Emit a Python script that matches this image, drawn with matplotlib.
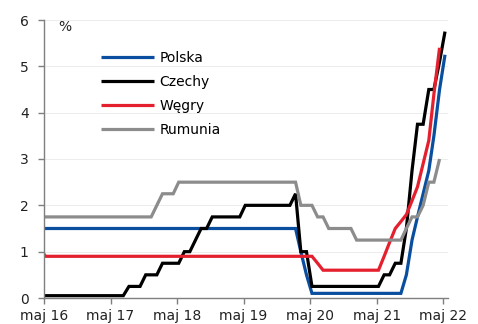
import datetime as dt

import matplotlib
matplotlib.use("Agg")
import matplotlib.pyplot as plt
import pandas as pd

# Monthly policy rates (%), April 2016 - May 2022
months = pd.date_range("2016-04-01", periods=74, freq="MS") + pd.Timedelta(days=9)

polska = [
    1.5, 1.5, 1.5, 1.5, 1.5, 1.5, 1.5, 1.5, 1.5,                      # 2016 IV-XII
    1.5, 1.5, 1.5, 1.5, 1.5, 1.5, 1.5, 1.5, 1.5, 1.5, 1.5, 1.5,       # 2017
    1.5, 1.5, 1.5, 1.5, 1.5, 1.5, 1.5, 1.5, 1.5, 1.5, 1.5, 1.5,       # 2018
    1.5, 1.5, 1.5, 1.5, 1.5, 1.5, 1.5, 1.5, 1.5, 1.5, 1.5, 1.5,       # 2019
    1.5, 1.5, 1.0, 0.5, 0.1, 0.1, 0.1, 0.1, 0.1, 0.1, 0.1, 0.1,       # 2020
    0.1, 0.1, 0.1, 0.1, 0.1, 0.1, 0.1, 0.1, 0.1, 0.5, 1.25, 1.75,     # 2021
    2.25, 2.75, 3.5, 4.5, 5.25,                                       # 2022 I-V
]
czechy = [
    0.05, 0.05, 0.05, 0.05, 0.05, 0.05, 0.05, 0.05, 0.05,
    0.05, 0.05, 0.05, 0.05, 0.05, 0.05, 0.05, 0.25, 0.25, 0.25, 0.5, 0.5,
    0.5, 0.75, 0.75, 0.75, 0.75, 1.0, 1.0, 1.25, 1.5, 1.5, 1.75, 1.75,
    1.75, 1.75, 1.75, 1.75, 2.0, 2.0, 2.0, 2.0, 2.0, 2.0, 2.0, 2.0,
    2.0, 2.25, 1.0, 1.0, 0.25, 0.25, 0.25, 0.25, 0.25, 0.25, 0.25, 0.25,
    0.25, 0.25, 0.25, 0.25, 0.25, 0.5, 0.5, 0.75, 0.75, 1.5, 2.75, 3.75,
    3.75, 4.5, 4.5, 5.1, 5.75,
]
wegry = [
    1.05, 0.9, 0.9, 0.9, 0.9, 0.9, 0.9, 0.9, 0.9,
    0.9, 0.9, 0.9, 0.9, 0.9, 0.9, 0.9, 0.9, 0.9, 0.9, 0.9, 0.9,
    0.9, 0.9, 0.9, 0.9, 0.9, 0.9, 0.9, 0.9, 0.9, 0.9, 0.9, 0.9,
    0.9, 0.9, 0.9, 0.9, 0.9, 0.9, 0.9, 0.9, 0.9, 0.9, 0.9, 0.9,
    0.9, 0.9, 0.9, 0.9, 0.9, 0.75, 0.6, 0.6, 0.6, 0.6, 0.6, 0.6,
    0.6, 0.6, 0.6, 0.6, 0.6, 0.9, 1.2, 1.5, 1.65, 1.8, 2.1, 2.4,
    2.9, 3.4, 4.4, 5.4,
]
rumunia = [
    1.75, 1.75, 1.75, 1.75, 1.75, 1.75, 1.75, 1.75, 1.75,
    1.75, 1.75, 1.75, 1.75, 1.75, 1.75, 1.75, 1.75, 1.75, 1.75, 1.75, 1.75,
    2.0, 2.25, 2.25, 2.25, 2.5, 2.5, 2.5, 2.5, 2.5, 2.5, 2.5, 2.5,
    2.5, 2.5, 2.5, 2.5, 2.5, 2.5, 2.5, 2.5, 2.5, 2.5, 2.5, 2.5,
    2.5, 2.5, 2.0, 2.0, 2.0, 1.75, 1.75, 1.5, 1.5, 1.5, 1.5, 1.5,
    1.25, 1.25, 1.25, 1.25, 1.25, 1.25, 1.25, 1.25, 1.25, 1.5, 1.75, 1.75,
    2.0, 2.5, 2.5, 3.0,
]

series = [
    ("Polska", polska, "#0a4f9f"),
    ("Czechy", czechy, "#000000"),
    ("Węgry", wegry, "#e5202e"),
    ("Rumunia", rumunia, "#8c8c8c"),
]

tick_years = [2016, 2017, 2018, 2019, 2020, 2021, 2022]
tick_labels = ["maj 16", "maj 17", "maj 18", "maj 19", "maj 20", "maj 21", "maj 22"]
y_ticks = [0, 1, 2, 3, 4, 5, 6]

plt.rcParams["font.family"] = ["DejaVu Sans"]

fig = plt.figure(figsize=(4.78, 3.24), dpi=100)
ax = fig.add_axes([44 / 478, 26 / 324, 404.3 / 478, 278 / 324])

for name, vals, color in series:
    ax.plot(months[: len(vals)], vals, color=color, lw=2.3, label=name,
            solid_joinstyle="miter", solid_capstyle="butt")

ax.set_xlim(dt.datetime(2016, 5, 1), dt.datetime(2022, 5, 28))
ax.set_ylim(0, 6)
ax.set_xticks([dt.datetime(y, 5, 1) for y in tick_years])
ax.set_xticklabels(tick_labels)
ax.set_yticks(y_ticks)

for side in ("top", "right"):
    ax.spines[side].set_visible(False)
for side in ("left", "bottom"):
    ax.spines[side].set_color("#7f7f7f")
    ax.spines[side].set_linewidth(1.0)

ax.yaxis.grid(True, color="#ececec", lw=0.7)
ax.set_axisbelow(True)
ax.tick_params(axis="both", direction="out", length=4, width=1, color="#7f7f7f",
               labelsize=10, labelcolor="#222222")
ax.tick_params(axis="y", pad=7)
ax.tick_params(axis="x", pad=4)

ax.text(0.035, 0.975, "%", transform=ax.transAxes, fontsize=10,
        color="#222222", va="center", ha="left")

ax.legend(loc="upper left", bbox_to_anchor=(0.141, 0.888), frameon=False,
          fontsize=10, handlelength=3.8, handletextpad=0.4,
          labelspacing=0.72, borderaxespad=0, borderpad=0)

fig.savefig("out.png", dpi=100)
